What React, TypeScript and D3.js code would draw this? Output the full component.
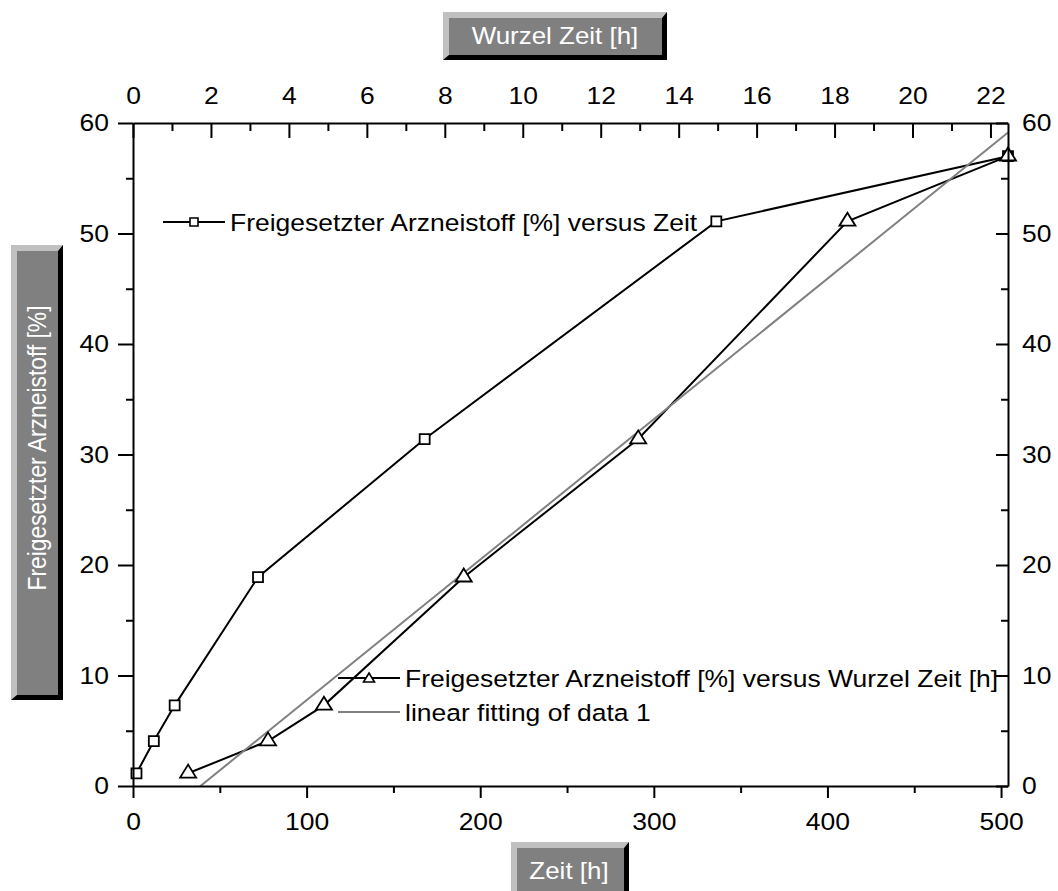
import { useRef, useEffect } from "react";
import * as d3 from "d3";

// release data: time in hours and released drug in percent
const timeHours = [2, 12, 24, 72, 168, 336, 504];
const releasedPercent = [1.15, 4.07, 7.3, 18.9, 31.4, 51.1, 57.0];

const timeTicks = [0, 100, 200, 300, 400, 500];
const timeMinorTicks = [50, 150, 250, 350, 450];
const rootTicks = [0, 2, 4, 6, 8, 10, 12, 14, 16, 18, 20, 22];
const rootMinorTicks = [1, 3, 5, 7, 9, 11, 13, 15, 17, 19, 21];
const percentTicks = [0, 10, 20, 30, 40, 50, 60];
const percentMinorTicks = [5, 15, 25, 35, 45, 55];

const legendLabels = [
  "Freigesetzter Arzneistoff [%] versus Zeit",
  "Freigesetzter Arzneistoff [%] versus Wurzel Zeit [h]",
  "linear fitting of data 1",
];

const FONT = "'Liberation Sans', Arial, Helvetica, sans-serif";
const FONT_SIZE = 24.5;
const STRETCH = 1.08;

const App = () => {
  const ref = useRef<SVGSVGElement>(null);

  useEffect(() => {
    if (!ref.current) return;
    const svg = d3.select(ref.current);
    svg.selectAll("*").remove();

    const plot = { left: 133, right: 1008, top: 123, bottom: 786 };
    const x = d3.scaleLinear().domain([0, 504]).range([plot.left, plot.right]);
    const xr = d3
      .scaleLinear()
      .domain([0, Math.sqrt(504)])
      .range([plot.left, plot.right]);
    const y = d3.scaleLinear().domain([0, 60]).range([plot.bottom, plot.top]);

    const rootTime = timeHours.map((t) => Math.sqrt(t));

    // least squares fit of percent vs sqrt(time)
    const mx = d3.mean(rootTime)!;
    const my = d3.mean(releasedPercent)!;
    const sxy = d3.sum(rootTime, (v, i) => (v - mx) * (releasedPercent[i] - my));
    const sxx = d3.sum(rootTime, (v) => (v - mx) * (v - mx));
    const slope = sxy / sxx;
    const intercept = my - slope * mx;

    svg
      .append("defs")
      .append("clipPath")
      .attr("id", "plot-clip")
      .append("rect")
      .attr("x", plot.left)
      .attr("y", plot.top)
      .attr("width", plot.right - plot.left)
      .attr("height", plot.bottom - plot.top);

    const line = d3.line<[number, number]>();

    // data lines
    svg
      .append("path")
      .attr("d", line(timeHours.map((t, i) => [x(t), y(releasedPercent[i])])))
      .attr("fill", "none")
      .attr("stroke", "#000")
      .attr("stroke-width", 2);
    svg
      .append("path")
      .attr("d", line(rootTime.map((t, i) => [xr(t), y(releasedPercent[i])])))
      .attr("fill", "none")
      .attr("stroke", "#000")
      .attr("stroke-width", 2);

    // fit line
    const [r0, r1] = xr.domain();
    svg
      .append("path")
      .attr("clip-path", "url(#plot-clip)")
      .attr(
        "d",
        line([
          [xr(r0), y(intercept + slope * r0)],
          [xr(r1), y(intercept + slope * r1)],
        ])
      )
      .attr("fill", "none")
      .attr("stroke", "#808080")
      .attr("stroke-width", 2);

    const square = (cx: number, cy: number, s: number) =>
      `M${cx - s / 2},${cy - s / 2}h${s}v${s}h${-s}Z`;
    const triangle = (cx: number, cy: number, w: number, h: number) =>
      `M${cx},${cy - (h * 2) / 3}L${cx + w / 2},${cy + h / 3}L${cx - w / 2},${cy + h / 3}Z`;

    svg
      .append("g")
      .selectAll("path")
      .data(timeHours)
      .join("path")
      .attr("d", (t, i) => square(x(t), y(releasedPercent[i]), 10))
      .attr("fill", "#fff")
      .attr("stroke", "#000")
      .attr("stroke-width", 1.8);

    svg
      .append("g")
      .selectAll("path")
      .data(rootTime)
      .join("path")
      .attr("d", (t, i) => triangle(xr(t), y(releasedPercent[i]), 16, 13))
      .attr("fill", "#fff")
      .attr("stroke", "#000")
      .attr("stroke-width", 1.8);

    // axes
    const styleAxis = (g: d3.Selection<SVGGElement, unknown, null, undefined>) => {
      g.attr("font-family", FONT).attr("font-size", FONT_SIZE);
      g.selectAll(".domain").attr("stroke-width", 2);
      g.selectAll(".tick line").attr("stroke-width", 2);
      g.selectAll(".tick text").attr("class", "stretch").attr("fill", "#000");
    };
    const minor = (g: d3.Selection<SVGGElement, unknown, null, undefined>) => {
      g.select(".domain").remove();
      g.selectAll(".tick text").remove();
      g.selectAll(".tick line").attr("stroke-width", 2);
    };
    const noLabel = () => "";

    svg
      .append("g")
      .attr("transform", `translate(0,${plot.bottom})`)
      .call(d3.axisBottom(x).tickValues(timeTicks).tickSize(12).tickPadding(15).tickSizeOuter(0))
      .call(styleAxis);
    svg
      .append("g")
      .attr("transform", `translate(0,${plot.bottom})`)
      .call(d3.axisBottom(x).tickValues(timeMinorTicks).tickSize(7).tickFormat(noLabel))
      .call(minor);

    svg
      .append("g")
      .attr("transform", `translate(0,${plot.top})`)
      .call(d3.axisTop(xr).tickValues(rootTicks).tickSizeInner(-15).tickSizeOuter(0).tickPadding(19))
      .call(styleAxis);
    svg
      .append("g")
      .attr("transform", `translate(0,${plot.top})`)
      .call(d3.axisTop(xr).tickValues(rootMinorTicks).tickSizeInner(-8).tickFormat(noLabel))
      .call(minor);

    svg
      .append("g")
      .attr("transform", `translate(${plot.left},0)`)
      .call(d3.axisLeft(y).tickValues(percentTicks).tickSize(15).tickSizeOuter(0).tickPadding(9))
      .call(styleAxis);
    svg
      .append("g")
      .attr("transform", `translate(${plot.left},0)`)
      .call(d3.axisLeft(y).tickValues(percentMinorTicks).tickSize(7).tickFormat(noLabel))
      .call(minor);

    svg
      .append("g")
      .attr("transform", `translate(${plot.right},0)`)
      .call(d3.axisRight(y).tickValues(percentTicks).tickSizeInner(-12).tickSizeOuter(0).tickPadding(14))
      .call(styleAxis);
    svg
      .append("g")
      .attr("transform", `translate(${plot.right},0)`)
      .call(d3.axisRight(y).tickValues(percentMinorTicks).tickSizeInner(-7).tickFormat(noLabel))
      .call(minor);

    // legend
    const legend = svg.append("g").attr("font-family", FONT).attr("font-size", FONT_SIZE);
    const legendRows = [
      { x0: 163, yy: 222, color: "#000", mark: "square" },
      { x0: 338, yy: 678, color: "#000", mark: "triangle" },
      { x0: 338, yy: 712, color: "#808080", mark: "none" },
    ];
    legendRows.forEach((row, i) => {
      legend
        .append("line")
        .attr("x1", row.x0)
        .attr("x2", row.x0 + 62)
        .attr("y1", row.yy)
        .attr("y2", row.yy)
        .attr("stroke", row.color)
        .attr("stroke-width", 2);
      const cx = row.x0 + 31;
      if (row.mark !== "none") {
        legend
          .append("path")
          .attr("d", row.mark === "square" ? square(cx, row.yy, 8) : triangle(cx, row.yy + 1, 11, 9))
          .attr("fill", "#fff")
          .attr("stroke", "#000")
          .attr("stroke-width", 1.6);
      }
      legend
        .append("text")
        .attr("class", "stretch")
        .attr("x", row.x0 + 67)
        .attr("y", row.yy)
        .attr("dy", "0.36em")
        .text(legendLabels[i]);
    });

    // bevelled title boxes
    const bevelBox = (bx: number, by: number, w: number, h: number) => {
      const g = svg.append("g");
      g.append("rect").attr("x", bx).attr("y", by).attr("width", w).attr("height", h).attr("fill", "#c0c0c0");
      g.append("path")
        .attr(
          "d",
          `M${bx + w},${by}L${bx + w},${by + h}L${bx},${by + h}L${bx + 6},${by + h - 5}L${bx + w - 5},${by + h - 5}L${bx + w - 5},${by + 6}Z`
        )
        .attr("fill", "#000");
      g.append("rect")
        .attr("x", bx + 6)
        .attr("y", by + 6)
        .attr("width", w - 11)
        .attr("height", h - 11)
        .attr("fill", "#808080");
      return g;
    };

    bevelBox(443, 12, 224, 48)
      .append("text")
      .attr("class", "stretch")
      .attr("x", 555)
      .attr("y", 44)
      .attr("text-anchor", "middle")
      .attr("font-family", FONT)
      .attr("font-size", 24)
      .attr("fill", "#fff")
      .text("Wurzel Zeit [h]");

    bevelBox(511, 842, 118, 56)
      .append("text")
      .attr("class", "stretch")
      .attr("x", 569)
      .attr("y", 879)
      .attr("text-anchor", "middle")
      .attr("font-family", FONT)
      .attr("font-size", 24)
      .attr("fill", "#fff")
      .text("Zeit [h]");

    bevelBox(11, 245, 52, 455)
      .append("text")
      .attr("transform", "translate(46,448) rotate(-90)")
      .attr("text-anchor", "middle")
      .attr("font-family", FONT)
      .attr("font-size", 25)
      .attr("fill", "#fff")
      .attr("textLength", 285)
      .attr("lengthAdjust", "spacingAndGlyphs")
      .text("Freigesetzter Arzneistoff [%]");

    // widen the glyphs slightly, as in the exported original
    svg.selectAll<SVGTextElement, unknown>("text.stretch").each(function () {
      const w = this.getComputedTextLength();
      this.setAttribute("textLength", String(w * STRETCH));
      this.setAttribute("lengthAdjust", "spacingAndGlyphs");
    });
  }, []);

  return (
    <svg
      ref={ref}
      width={1058}
      height={891}
      style={{ position: "absolute", left: 0, top: 0, background: "#fff" }}
    />
  );
};

export default App;
